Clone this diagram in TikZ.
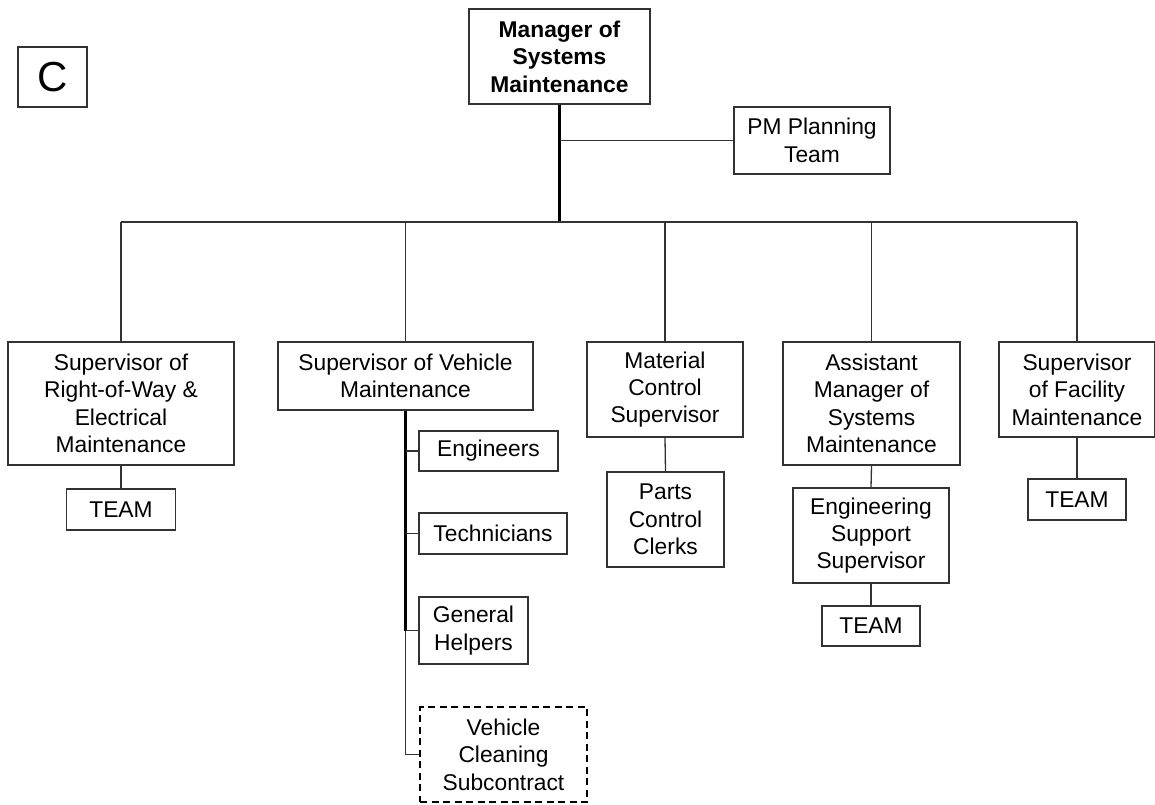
\documentclass[tikz,border=0pt]{standalone}
\usepackage{fontspec}
\setmainfont{Liberation Sans}
\begin{document}
\begin{tikzpicture}[x=1pt,y=-1pt,
  box/.style={draw=black!80, line width=1.3pt, rectangle, inner sep=0pt, align=center,
    font=\fontsize{22.8}{27.4}\selectfont},
  dashbox/.style={box, draw=black, line width=2.6pt, dash pattern=on 7pt off 4.5pt},
  link/.style={draw=black!80, line width=1.3pt},
  trunk/.style={draw=black, line width=2.6pt}]
\useasboundingbox (0,0) rectangle (1155,804);

% letter tag
\node[box, minimum width=69pt, minimum height=60pt, font=\fontsize{42}{42}\selectfont] (tag) at (52.5,77) {C};

% top level
\node[box, minimum width=181pt, minimum height=95pt, font=\fontsize{22.8}{27.4}\selectfont\bfseries] (mgr) at (559.5,56.5) {Manager of\\Systems\\Maintenance};
\node[box, minimum width=156pt, minimum height=67pt] (pm) at (812,140.5) {PM Planning\\Team};

% second level
\node[box, minimum width=226pt, minimum height=123pt] (row) at (121,403.5) {Supervisor of\\Right-of-Way \&\\Electrical\\Maintenance};
\node[box, minimum width=255pt, minimum height=68pt] (veh) at (405.5,376) {Supervisor of Vehicle\\Maintenance};
\node[box, minimum width=156pt, minimum height=95pt] (mat) at (665,389.5) {Material\\Control\\Supervisor};
\node[box, minimum width=177pt, minimum height=123pt] (asst) at (871.5,403.5) {Assistant\\Manager of\\Systems\\Maintenance};
\node[box, minimum width=156pt, minimum height=95pt] (fac) at (1077,389.5) {Supervisor\\of Facility\\Maintenance};

% third level
\node[box, minimum width=109pt, minimum height=41pt] (teamA) at (121,509.5) {TEAM};
\node[box, minimum width=139pt, minimum height=40pt] (eng) at (488.5,451) {Engineers};
\node[box, minimum width=148pt, minimum height=41pt] (tech) at (493,533.5) {Technicians};
\node[box, minimum width=109pt, minimum height=67pt] (gh) at (473.5,630.5) {General\\Helpers};
\node[dashbox, minimum width=167pt, minimum height=95pt] (vcs) at (503.5,754.5) {Vehicle\\Cleaning\\Subcontract};
\node[box, minimum width=117pt, minimum height=95pt] (parts) at (665.5,519.5) {Parts\\Control\\Clerks};
\node[box, minimum width=156pt, minimum height=95pt] (ess) at (871,535.5) {Engineering\\Support\\Supervisor};
\node[box, minimum width=98pt, minimum height=40pt] (teamC) at (871,626) {TEAM};
\node[box, minimum width=98pt, minimum height=41pt] (teamD) at (1077,499.5) {TEAM};

% horizontal bus under the manager
\coordinate (busL) at (121,222);
\coordinate (busR) at (1077,222);

% connectors
\draw[trunk] (mgr.south) -- (mgr.south |- busL);
\draw[link] (mgr.south |- pm.west) -- (pm.west);
\draw[link] (busL) -- (busR);
\draw[link] (row.north |- busL) -- (row.north);
\draw[link] (veh.north |- busL) -- (veh.north);
\draw[link] (mat.north |- busL) -- (mat.north);
\draw[link] (asst.north |- busL) -- (asst.north);
\draw[link] (fac.north |- busL) -- (fac.north);

\draw[link] (row.south) -- (teamA.north);
\draw[link] (mat.south) -- (parts.north);
\draw[link] (asst.south) -- (ess.north);
\draw[link] (ess.south) -- (teamC.north);
\draw[link] (fac.south) -- (teamD.north);

% vehicle maintenance spine
\draw[trunk] (veh.south) -- (veh.south |- gh.west);
\draw[link] (veh.south |- gh.west) -- (veh.south |- vcs.west);
\draw[link] (veh.south |- eng.west) -- (eng.west);
\draw[link] (veh.south |- tech.west) -- (tech.west);
\draw[link] (veh.south |- gh.west) -- (gh.west);
\draw[link] (veh.south |- vcs.west) -- (vcs.west);
\end{tikzpicture}
\end{document}
